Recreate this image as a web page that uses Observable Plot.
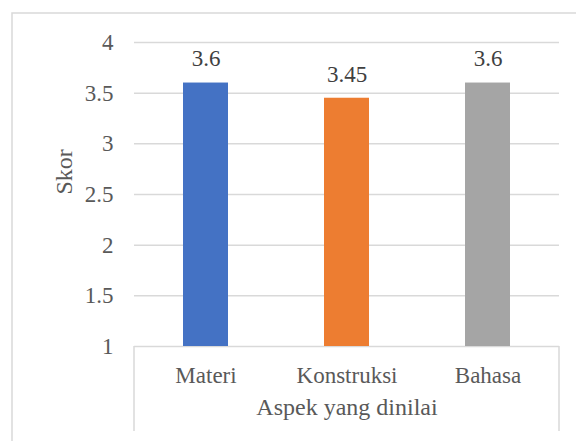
<!DOCTYPE html>
<html>
<head>
<meta charset="utf-8">
<script src="https://cdn.jsdelivr.net/npm/d3@7"></script>
<script src="https://cdn.jsdelivr.net/npm/@observablehq/plot@0.6"></script>
<style>
  html, body { margin: 0; padding: 0; background: #ffffff; overflow: hidden; }
  #chart svg, #chart svg text {
    font-family: "Liberation Serif", "Times New Roman", Tinos, "DejaVu Serif", serif !important;
  }
</style>
</head>
<body>
<div id="chart"></div>
<script>
// Skor rata-rata per aspek yang dinilai
const categories = ["Materi", "Konstruksi", "Bahasa"];
const scores = [3.6, 3.45, 3.6];
const barColors = ["#4472C4", "#ED7D31", "#A5A5A5"];
const yTicks = [1, 1.5, 2, 2.5, 3, 3.5, 4];
const yTitle = "Skor";
const xTitle = "Aspek yang dinilai";

const data = categories.map((category, i) => ({
  category,
  score: scores[i],
  color: barColors[i]
}));

const yMin = yTicks[0];
const yMax = yTicks[yTicks.length - 1];
const gridColor = "#D9D9D9";

const svg = Plot.plot({
  width: 576,
  height: 441,
  marginLeft: 134,
  marginRight: 17,
  marginTop: 42,
  marginBottom: 95,
  style: { color: "#595959", background: "#ffffff", overflow: "visible" },
  x: { domain: categories, paddingInner: 0.68, paddingOuter: 0.34, axis: null },
  y: { domain: [yMin, yMax], axis: null },
  color: { type: "identity" },
  marks: [
    Plot.ruleY(yTicks, { stroke: gridColor, strokeWidth: 1.5 }),
    Plot.barY(data, { x: "category", y1: yMin, y2: "score", fill: "color" }),
    Plot.text(data, {
      x: "category",
      y: "score",
      text: d => String(d.score),
      dy: -24,
      fill: "#404040",
      fontSize: 23
    }),
    Plot.axisY(yTicks, {
      tickSize: 0,
      tickPadding: 21,
      label: null,
      tickFormat: d => String(d),
      fontSize: 23
    }),
    Plot.axisX({ tickSize: 0, tickPadding: 20, label: null, fontSize: 23 }),
    Plot.text([yTitle], { frameAnchor: "left", rotate: -90, dx: -70, fill: "#595959", fontSize: 24 }),
    Plot.text([xTitle], { frameAnchor: "bottom", dy: 68, fill: "#595959", fontSize: 24 })
  ]
});

const root = d3.select(svg);

// Chart-area border and the box around the category axis
root.insert("rect", ":first-child")
  .attr("x", 12).attr("y", 13)
  .attr("width", 600).attr("height", 460)
  .attr("fill", "#ffffff")
  .attr("stroke", gridColor)
  .attr("stroke-width", 1.5);

const [x0, x1] = svg.scale("x").range;
const yBase = svg.scale("y").apply(yMin);
const boxBottom = 431;
root.append("g")
  .attr("stroke", gridColor)
  .attr("stroke-width", 1.5)
  .selectAll("line")
  .data([x0, x1])
  .join("line")
  .attr("x1", d => d).attr("x2", d => d)
  .attr("y1", yBase).attr("y2", boxBottom);

document.getElementById("chart").appendChild(svg);
</script>
</body>
</html>
